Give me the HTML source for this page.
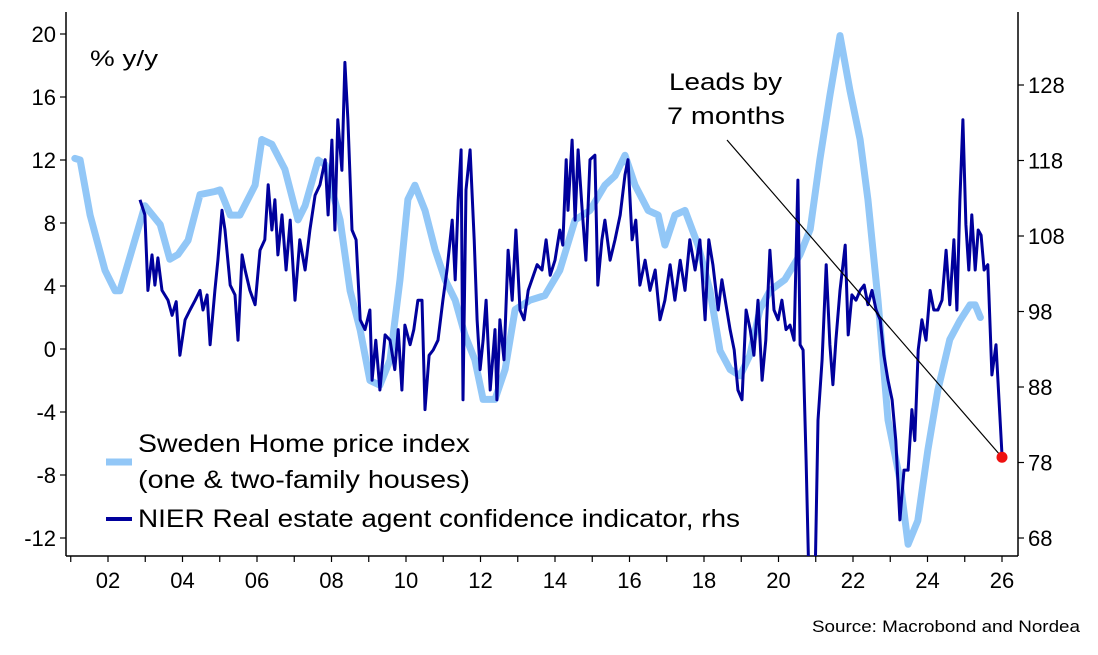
<!DOCTYPE html>
<html><head><meta charset="utf-8"><style>
html,body{margin:0;padding:0;background:#fff;}
svg{display:block;font-family:"Liberation Sans",sans-serif;}
</style></head><body>
<svg id="chart" width="1098" height="655" viewBox="0 0 1098 655">
<defs><clipPath id="plotclip"><rect x="66" y="12" width="952" height="544"/></clipPath></defs>
<g id="axes"></g>
<g id="series" clip-path="url(#plotclip)"></g>
<g id="overlay"></g>
</svg>
<script>
const leftTicks=[20,16,12,8,4,0,-4,-8,-12];
const rightTicks=[128,118,108,98,88,78,68];
const yearTicks=[2002,2004,2006,2008,2010,2012,2014,2016,2018,2020,2022,2024,2026];
const yearLabels=["02","04","06","08","10","12","14","16","18","20","22","24","26"];
const hpDates=[2001.11,2001.25,2001.52,2001.92,2002.19,2002.32,2002.72,2002.99,2003.40,2003.66,2003.88,2004.15,2004.47,2004.87,2005.01,2005.28,2005.54,2005.95,2006.13,2006.40,2006.75,2007.10,2007.29,2007.64,2007.83,2008.23,2008.50,2008.77,2009.03,2009.30,2009.57,2009.84,2010.05,2010.24,2010.51,2010.78,2011.05,2011.32,2011.58,2011.85,2012.07,2012.39,2012.66,2012.93,2013.33,2013.73,2014.13,2014.54,2014.94,2015.34,2015.61,2015.88,2016.15,2016.50,2016.77,2016.95,2017.22,2017.49,2017.84,2018.16,2018.43,2018.70,2018.97,2019.23,2019.50,2019.77,2020.17,2020.58,2020.85,2021.11,2021.38,2021.65,2021.92,2022.19,2022.40,2022.67,2022.94,2023.26,2023.48,2023.74,2024.01,2024.28,2024.60,2024.87,2025.14,2025.28,2025.42];
const hpValues=[12.1,12.0,8.5,5.0,3.7,3.7,6.9,9.1,7.9,5.7,6.0,6.9,9.8,10.0,10.1,8.5,8.5,10.4,13.3,13.0,11.4,8.2,9.1,12.0,11.7,8.2,3.7,1.2,-2.0,-2.3,-0.7,4.4,9.5,10.4,8.8,6.3,4.4,3.1,0.9,-0.7,-3.2,-3.2,-1.3,2.5,3.1,3.4,5.0,8.2,8.8,10.4,11.0,12.3,10.4,8.8,8.5,6.6,8.5,8.8,6.6,3.7,-0.1,-1.3,-1.7,-0.4,2.5,3.7,4.4,6.0,7.6,12.0,16.1,19.9,16.4,13.3,9.5,3.1,-4.5,-8.3,-12.4,-10.9,-6.4,-2.6,0.6,1.8,2.8,2.8,2.0];
const ciDates=[2002.86,2002.99,2003.07,2003.18,2003.26,2003.34,2003.45,2003.61,2003.72,2003.83,2003.93,2004.07,2004.20,2004.34,2004.47,2004.55,2004.66,2004.74,2004.87,2004.95,
2005.06,2005.14,2005.28,2005.41,2005.49,2005.60,2005.68,2005.81,2005.95,2006.08,2006.21,2006.30,2006.40,2006.48,2006.56,2006.67,2006.78,2006.89,2007.02,2007.15,
2007.29,2007.42,2007.56,2007.69,2007.83,2007.91,2008.01,2008.09,2008.17,2008.28,2008.36,2008.44,2008.55,2008.66,2008.77,2008.90,2009.03,2009.09,2009.19,2009.30,
2009.44,2009.57,2009.70,2009.79,2009.89,2009.97,2010.11,2010.21,2010.32,2010.43,2010.51,2010.62,2010.73,2010.86,2010.99,2011.10,2011.24,2011.32,2011.40,2011.48,
2011.53,2011.61,2011.72,2011.83,2011.91,2011.99,2012.07,2012.15,2012.26,2012.39,2012.44,2012.52,2012.63,2012.74,2012.85,2012.95,2013.06,2013.17,2013.28,2013.38,
2013.52,2013.65,2013.76,2013.87,2014.00,2014.13,2014.21,2014.30,2014.35,2014.46,2014.54,2014.62,2014.73,2014.83,2014.94,2015.07,2015.15,2015.26,2015.34,2015.48,
2015.61,2015.75,2015.88,2015.96,2016.07,2016.17,2016.28,2016.42,2016.55,2016.69,2016.82,2016.95,2017.09,2017.22,2017.36,2017.49,2017.62,2017.76,2017.89,2018.03,
2018.13,2018.24,2018.38,2018.48,2018.59,2018.70,2018.81,2018.91,2019.02,2019.13,2019.24,2019.34,2019.45,2019.56,2019.66,2019.77,2019.88,2019.99,2020.09,2020.20,
2020.31,2020.42,2020.52,2020.58,2020.66,2020.74,2020.82,2020.90,2020.98,2021.06,2021.17,2021.28,2021.38,2021.46,2021.54,2021.65,2021.79,2021.87,2021.97,2022.08,
2022.19,2022.30,2022.40,2022.51,2022.62,2022.73,2022.83,2022.94,2023.05,2023.15,2023.26,2023.37,2023.48,2023.58,2023.66,2023.75,2023.85,2023.96,2024.07,2024.17,
2024.28,2024.39,2024.50,2024.60,2024.71,2024.79,2024.87,2024.95,2025.03,2025.11,2025.19,2025.28,2025.36,2025.44,2025.52,2025.62,2025.73,2025.84,2025.92,2026.00];
const ciValues=[112.8,110.8,100.8,105.5,101.5,105.1,100.8,99.5,97.5,99.3,92.2,96.9,98.2,99.5,100.8,98.2,100.2,93.6,100.8,104.8,
111.4,108.8,101.5,100.2,94.2,105.5,103.5,100.8,98.9,106.1,107.5,114.8,108.8,112.8,105.5,110.8,103.5,110.1,99.5,107.5,
103.5,108.8,113.4,114.8,118.1,110.8,120.7,108.8,123.4,116.7,131.0,123.4,108.8,107.5,96.9,95.6,98.2,88.9,94.2,87.6,
94.9,94.2,90.3,95.6,87.6,96.2,93.6,95.6,99.5,99.5,85.0,92.2,92.9,94.2,99.5,103.5,110.1,102.2,112.8,119.4,
86.3,114.1,119.4,107.5,96.9,90.3,94.2,99.5,87.6,95.6,86.3,96.9,91.6,106.1,99.5,108.8,98.2,96.9,100.8,102.2,
104.2,103.5,107.5,102.8,104.8,108.8,106.8,118.1,111.4,120.7,110.1,119.4,111.4,104.8,118.1,118.7,101.5,107.5,110.1,104.8,
107.5,110.8,116.1,118.1,107.5,110.1,101.5,104.8,100.8,103.5,96.9,99.5,104.2,99.5,104.8,100.8,107.5,103.5,107.5,96.9,
107.5,104.2,98.2,102.2,98.9,95.6,92.9,87.6,86.3,98.2,95.6,92.2,99.5,88.9,94.2,106.1,98.2,96.9,99.5,95.6,
96.2,94.2,115.4,93.6,92.9,78.3,62,62,62,83.6,91.6,104.2,93.6,88.3,94.2,100.8,106.8,94.9,100.2,99.5,
100.8,101.5,98.9,100.8,98.2,96.9,92.2,88.9,86.3,80.9,70.4,77.0,77.0,85.0,80.9,92.9,96.9,94.2,100.8,98.2,
98.2,99.5,106.1,98.9,107.5,98.2,112.8,123.4,109.5,103.5,110.8,103.5,108.8,108.1,103.5,104.2,89.6,93.6,86.3,79.0];
const leadDate=2026.0, leadValue=78.7;

const NS="http://www.w3.org/2000/svg";
const X0=66,X1=1018,Y0=12,Y1=556;
function xs(t){return 108+(t-2002)*37.25;}
function yl(v){return 34+(20-v)*15.75;}
function yr(v){return 85+(128-v)*7.55;}
function mk(tag,attrs,parent,text){const e=document.createElementNS(NS,tag);for(const k in attrs)e.setAttribute(k,attrs[k]);if(text!==undefined)e.textContent=text;parent.appendChild(e);return e;}
const axes=document.getElementById('axes'),series=document.getElementById('series'),ov=document.getElementById('overlay');
let e;
e=mk('line',{x1:X0,y1:Y0,x2:X0,y2:Y1,stroke:'#000','stroke-width':1.5},axes);


e=mk('line',{x1:X1,y1:Y0,x2:X1,y2:Y1,stroke:'#000','stroke-width':1.5},axes);


e=mk('line',{x1:X0,y1:Y1,x2:X1,y2:Y1,stroke:'#000','stroke-width':1.5},axes);


leftTicks.forEach(v=>{const y=yl(v);
 e=mk('line',{x1:X0-6,y1:y,x2:X0,y2:y,stroke:'#000','stroke-width':1.2},axes);
 
 
 e=mk('text',{x:X0-10,y:y+8,'text-anchor':'end','font-size':22,fill:'#000'},axes,String(v));
 
 });
rightTicks.forEach(v=>{const y=yr(v);
 e=mk('line',{x1:X1,y1:y,x2:X1+6,y2:y,stroke:'#000','stroke-width':1.2},axes);
 
 
 e=mk('text',{x:1028,y:y+8,'text-anchor':'start','font-size':22,fill:'#000'},axes,String(v));
 
 });
for(let yy=2001;yy<=2026;yy++){const x=xs(yy);if(x<X0||x>X1)continue;
 e=mk('line',{x1:x,y1:Y1,x2:x,y2:Y1+6,stroke:'#000','stroke-width':1.2},axes);
 
 }
yearTicks.forEach((t,i)=>{
 e=mk('text',{x:xs(t),y:588,'text-anchor':'middle','font-size':22,fill:'#000'},axes,yearLabels[i]);
 
 });
e=mk('text',{x:90,y:66,'font-size':22,fill:'#000',textLength:68,lengthAdjust:'spacingAndGlyphs'},axes,'% y/y');



let d='';hpDates.forEach((t,i)=>{d+=(i?'L':'M')+xs(t).toFixed(1)+' '+yl(hpValues[i]).toFixed(1);});
e=mk('path',{d:d,fill:'none',stroke:'#92c7f7','stroke-width':7,'stroke-linejoin':'round','stroke-linecap':'round'},series);


d='';const n=Math.min(ciDates.length,ciValues.length);
for(let i=0;i<n;i++){d+=(i?'L':'M')+xs(ciDates[i]).toFixed(1)+' '+yr(ciValues[i]).toFixed(1);}
e=mk('path',{d:d,fill:'none',stroke:'#00009c','stroke-width':3,'stroke-linejoin':'round'},series);



e=mk('line',{x1:727,y1:140,x2:xs(leadDate),y2:yr(leadValue),stroke:'#000','stroke-width':1.2},ov);


e=mk('circle',{cx:xs(leadDate),cy:yr(leadValue),r:5.5,fill:'#ee1111'},ov);


e=mk('text',{x:669,y:90,'font-size':24,fill:'#000',textLength:113,lengthAdjust:'spacingAndGlyphs'},ov,'Leads by');


e=mk('text',{x:667,y:124,'font-size':24,fill:'#000',textLength:118,lengthAdjust:'spacingAndGlyphs'},ov,'7 months');



e=mk('line',{x1:106,y1:462,x2:132,y2:462,stroke:'#92c7f7','stroke-width':7},ov);


e=mk('text',{x:138,y:452,'font-size':25,fill:'#000',textLength:332,lengthAdjust:'spacingAndGlyphs'},ov,'Sweden Home price index');


e=mk('text',{x:138,y:488,'font-size':25,fill:'#000',textLength:332,lengthAdjust:'spacingAndGlyphs'},ov,'(one & two-family houses)');


e=mk('line',{x1:106,y1:519,x2:132,y2:519,stroke:'#00009c','stroke-width':4},ov);


e=mk('text',{x:138,y:527,'font-size':25,fill:'#000',textLength:602,lengthAdjust:'spacingAndGlyphs'},ov,'NIER Real estate agent confidence indicator, rhs');


e=mk('text',{x:812,y:632,'font-size':17,fill:'#000',textLength:268,lengthAdjust:'spacingAndGlyphs'},ov,'Source: Macrobond and Nordea');


</script>
</body></html>
